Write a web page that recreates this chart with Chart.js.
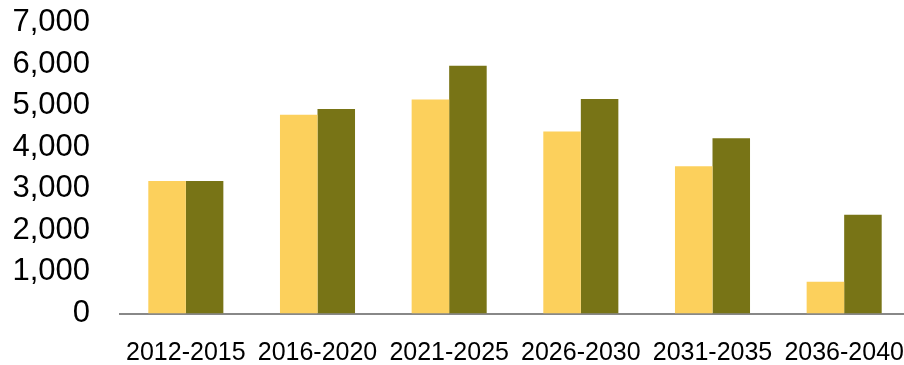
<!DOCTYPE html>
<html lang="en">
<head>
    <meta charset="UTF-8">
    <title>Period Totals</title>
    <script src="https://cdn.jsdelivr.net/npm/chart.js"></script>
    <style>
        * {
            margin: 0;
            padding: 0;
            box-sizing: border-box;
        }

        body {
            width: 904px;
            height: 365px;
            overflow: hidden;
            background: #ffffff;
        }

        #barChart {
            position: absolute;
            left: 0;
            top: 0;
        }
    </style>
</head>
<body>
    <canvas id="barChart" width="910" height="365"></canvas>

    <script>
        const periods = ["2012-2015", "2016-2020", "2021-2025", "2026-2030", "2031-2035", "2036-2040"];
        const seriesA = [3190, 4780, 5150, 4380, 3540, 765];
        const seriesB = [3190, 4920, 5960, 5160, 4215, 2375];
        const yMin = 0;
        const yMax = 7000;
        const yStep = 1000;

        const fontFamily = "'Liberation Sans', Arial, sans-serif";

        // v4 adds tick padding to the cross-axis paddings as well, so pin the box sizes here
        function fitX(scale) {
            scale.height = 51.5;
            scale.paddingLeft = 0;
            scale.paddingRight = 0;
        }

        function fitY(scale) {
            scale.width = 108;
            scale.paddingTop = 22.5;
            scale.paddingBottom = 0;
        }

        new Chart(document.getElementById("barChart").getContext("2d"), {
            type: 'bar',
            data: {
                labels: periods,
                datasets: [
                    {
                        data: seriesA,
                        backgroundColor: '#FCD05C',
                        categoryPercentage: 0.57,
                        barPercentage: 1
                    },
                    {
                        data: seriesB,
                        backgroundColor: '#787416',
                        categoryPercentage: 0.57,
                        barPercentage: 1
                    }
                ]
            },
            options: {
                responsive: false,
                animation: false,
                layout: {
                    padding: { left: 12, top: 0, right: 0, bottom: 0 }
                },
                plugins: {
                    legend: { display: false },
                    tooltip: { enabled: false }
                },
                scales: {
                    x: {
                        afterFit: fitX,
                        grid: { display: false, drawTicks: false },
                        border: { display: true, color: '#888888', width: 2 },
                        ticks: {
                            color: '#000000',
                            padding: 27,
                            autoSkip: false,
                            maxRotation: 0,
                            font: { family: fontFamily, size: 25, lineHeight: 1 }
                        }
                    },
                    y: {
                        min: yMin,
                        max: yMax,
                        afterFit: fitY,
                        grid: { display: false, drawTicks: false },
                        border: { display: false },
                        ticks: {
                            stepSize: yStep,
                            autoSkip: false,
                            color: '#000000',
                            padding: 30,
                            font: { family: fontFamily, size: 31 },
                            callback: value => value.toLocaleString('en-US')
                        }
                    }
                }
            }
        });
    </script>
</body>
</html>
